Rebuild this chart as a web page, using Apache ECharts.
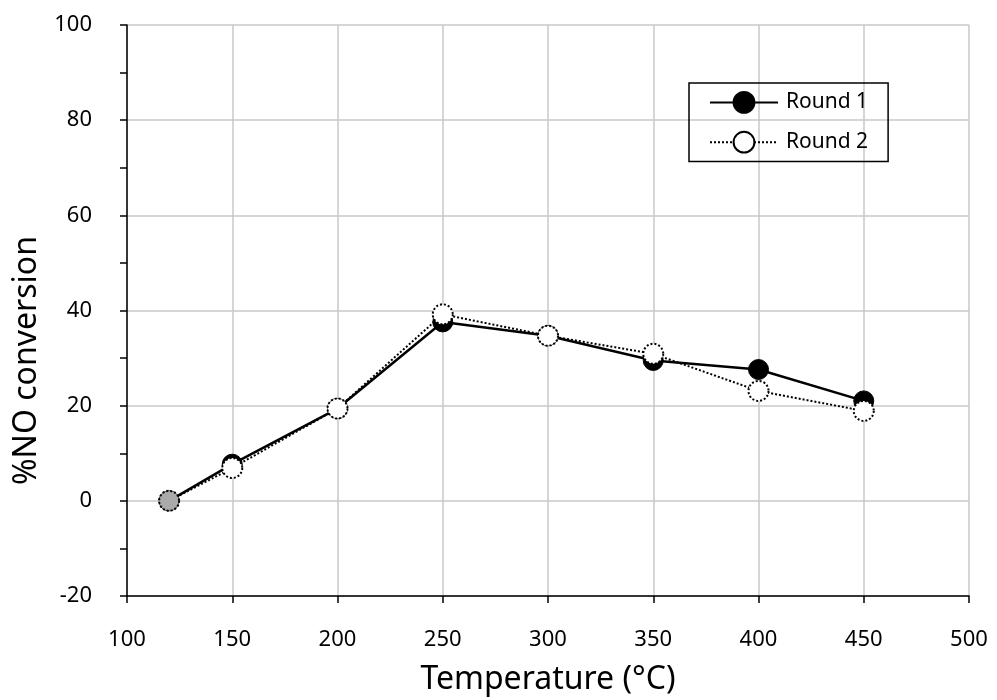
<!DOCTYPE html>
<html><head><meta charset="utf-8">
<script src="https://cdn.jsdelivr.net/npm/echarts@6/dist/echarts.min.js"></script>
<style>html,body{margin:0;padding:0;background:#fff}#c{width:997px;height:700px}</style>
</head><body><div id="c"></div>
<script>
var temps = [120, 150, 200, 250, 300, 350, 400, 450];
var round1 = [0, 7.7, 19.4, 37.6, 34.7, 29.5, 27.6, 21.0];
var round2 = [0, 6.9, 19.4, 39.2, 34.7, 30.9, 23.1, 18.9];
var seriesNames = ['Round 1', 'Round 2'];
var xAxisName = 'Temperature (°C)';
var yAxisName = '%NO conversion';

var font = 'Noto Sans';
var chart = echarts.init(document.getElementById('c'));
function pairs(vals) { return temps.map(function (t, i) { return [t, vals[i]]; }); }
var r2data = pairs(round2).map(function (p, i) {
  return i === 0 ? { value: p, itemStyle: { color: '#aaaaaa' } } : p;
});
chart.setOption({
  animation: false,
  backgroundColor: '#fff',
  grid: { left: 127, right: 28, top: 25, bottom: 104, outerBoundsMode: 'none' },
  legend: {
    orient: 'vertical', left: 689, top: 83,
    padding: [8, 20, 8, 20], itemGap: 17,
    borderColor: '#000', borderWidth: 1.5,
    itemWidth: 68, itemHeight: 26,
    textStyle: { fontFamily: font, fontSize: 21, color: '#000', padding: [0, 0, 0, 3] },
    data: seriesNames
  },
  xAxis: {
    type: 'value', min: 100, max: 500, interval: 50,
    name: xAxisName, nameLocation: 'middle', nameGap: 68,
    nameTextStyle: { fontFamily: font, fontSize: 32, color: '#000' },
    axisLine: { onZero: false, lineStyle: { color: '#000', width: 1.5 } },
    axisTick: { show: true, length: 7, lineStyle: { color: '#000', width: 1.5 } },
    axisLabel: { fontFamily: font, fontSize: 22, color: '#000', margin: 33 },
    splitLine: { show: true, lineStyle: { color: '#c8c8c8', width: 1.5 } }
  },
  yAxis: {
    type: 'value', min: -20, max: 100, interval: 20,
    name: yAxisName, nameLocation: 'middle', nameGap: 82,
    nameTextStyle: { fontFamily: font, fontSize: 32, color: '#000', padding: [0, 100, 0, 0] },
    axisLine: { show: true, onZero: false, lineStyle: { color: '#000', width: 1.5 } },
    axisTick: { show: true, length: 7, lineStyle: { color: '#000', width: 1.5 } },
    minorTick: { show: true, splitNumber: 2, length: 7, lineStyle: { color: '#000', width: 1.5 } },
    axisLabel: { fontFamily: font, fontSize: 22, color: '#000', margin: 35 },
    splitLine: { show: true, lineStyle: { color: '#c8c8c8', width: 1.5 } }
  },
  series: [
    {
      name: seriesNames[0], type: 'line', data: pairs(round1),
      symbol: 'circle', symbolSize: 20, z: 2,
      lineStyle: { color: '#000', width: 2.5, type: 'solid' },
      itemStyle: { color: '#000', borderColor: '#000', borderWidth: 1 }
    },
    {
      name: seriesNames[1], type: 'line', data: r2data,
      symbol: 'circle', symbolSize: 20, z: 3,
      lineStyle: { color: '#000', width: 2, type: 'dotted' },
      itemStyle: { color: '#fff', borderColor: '#000', borderWidth: 2, borderType: 'dotted' }
    }
  ]
});
</script></body></html>
